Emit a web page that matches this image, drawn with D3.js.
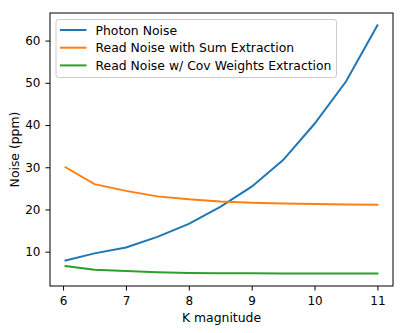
<!DOCTYPE html>
<html><head><meta charset="utf-8">
<script src="https://cdn.jsdelivr.net/npm/d3@7"></script>
<style>body{margin:0;background:#fff}svg{display:block;font-family:"DejaVu Sans",sans-serif}</style>
</head><body><svg id="c" width="407" height="333"></svg>
<script>
const kmag = [6.04, 6.5, 7, 7.5, 8, 8.5, 9, 9.5, 10, 10.5, 11];
const photonNoise = [7.9, 9.6, 11.0, 13.5, 16.6, 20.6, 25.4, 31.7, 40.3, 50.3, 63.6];
const sumReadNoise = [30.0, 26.0, 24.4, 23.1, 22.4, 21.9, 21.6, 21.4, 21.3, 21.2, 21.1];
const covReadNoise = [6.6, 5.7, 5.4, 5.15, 4.95, 4.9, 4.9, 4.85, 4.85, 4.82, 4.81];
const seriesNames = ["Photon Noise", "Read Noise with Sum Extraction", "Read Noise w/ Cov Weights Extraction"];
const colors = ["#1f77b4", "#ff7f0e", "#2ca02c"];
const xTicks = [6, 7, 8, 9, 10, 11];
const yTicks = [10, 20, 30, 40, 50, 60];

const svg = d3.select("#c");
const L = 50, R = 393, T = 13, B = 286;
const allY = photonNoise.concat(sumReadNoise, covReadNoise);
const xmin = d3.min(kmag), xmax = d3.max(kmag), xs = xmax - xmin;
const ymin = d3.min(allY), ymax = d3.max(allY), ys = ymax - ymin;
const x = d3.scaleLinear().domain([xmin - 0.05 * xs, xmax + 0.05 * xs]).range([L, R]);
const y = d3.scaleLinear().domain([ymin - 0.05 * ys, ymax + 0.05 * ys]).range([B, T]);

const line = d3.line().x(d => x(d[0])).y(d => y(d[1]));
[photonNoise, sumReadNoise, covReadNoise].forEach((s, i) => {
  svg.append("path").datum(kmag.map((k, j) => [k, s[j]]))
    .attr("d", line).attr("fill", "none").attr("stroke", colors[i])
    .attr("stroke-width", 2).attr("stroke-linecap", "square");
});

const xa = svg.append("g").attr("transform", `translate(0,${B})`)
  .call(d3.axisBottom(x).tickValues(xTicks).tickFormat(d3.format("d")).tickSize(4.5).tickPadding(5.5));
const ya = svg.append("g").attr("transform", `translate(${L},0)`)
  .call(d3.axisLeft(y).tickValues(yTicks).tickFormat(d3.format("d")).tickSize(4.5).tickPadding(5));
[xa, ya].forEach(a => {
  a.select(".domain").remove();
  a.selectAll("line").attr("stroke", "#000").attr("stroke-width", 1);
  a.selectAll("text").attr("font-size", 12).attr("fill", "#000").attr("font-family", "DejaVu Sans");
});

svg.append("rect").attr("x", L).attr("y", T).attr("width", R - L).attr("height", B - T)
  .attr("fill", "none").attr("stroke", "#000").attr("stroke-width", 1);

svg.append("text").attr("x", (L + R) / 2).attr("y", 322).attr("text-anchor", "middle")
  .attr("font-size", 12.4).text("K magnitude");
svg.append("text").attr("transform", `translate(18.5,${(T + B) / 2}) rotate(-90)`)
  .attr("text-anchor", "middle").attr("font-size", 12.4).text("Noise (ppm)");

const lg = svg.append("g");
lg.append("rect").attr("x", 56).attr("y", 19.5).attr("width", 280.5).attr("height", 58)
  .attr("rx", 2.5).attr("fill", "#fff").attr("fill-opacity", 0.8)
  .attr("stroke", "#ccc").attr("stroke-width", 1);
seriesNames.forEach((n, i) => {
  const yy = 30 + i * 17.7;
  lg.append("line").attr("x1", 60).attr("x2", 86.5).attr("y1", yy).attr("y2", yy)
    .attr("stroke", colors[i]).attr("stroke-width", 2);
  lg.append("text").attr("x", 95.5).attr("y", yy + 4.5).attr("font-size", 12.4).text(n);
});
</script></body></html>
